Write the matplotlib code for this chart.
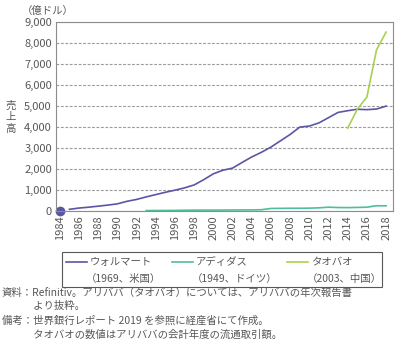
import numpy as np
import matplotlib.pyplot as plt
from matplotlib.patches import Rectangle
from matplotlib.lines import Line2D

plt.rcParams['font.family'] = ['Noto Sans CJK JP', 'DejaVu Sans']

years = np.arange(1984, 2019)
walmart = [0, 90, 150, 190, 240, 290, 350, 470, 560, 680, 790, 900, 1000, 1110,
           1250, 1500, 1780, 1950, 2050, 2320, 2580, 2800, 3050, 3350, 3650, 4000,
           4050, 4200, 4450, 4700, 4780, 4850, 4830, 4860, 5000]
adidas_years = np.arange(1993, 2019)
adidas = [30, 32, 35, 38, 45, 50, 52, 52, 55, 58, 60, 62, 70, 130, 135, 140, 140,
          145, 160, 190, 175, 170, 180, 190, 260, 255]
taobao_years = np.arange(2014, 2019)
taobao = [3950, 4850, 5430, 7670, 8520]

names = ['ウォルマート', 'アディダス', 'タオバオ']
subs = ['（1969、米国）', '（1949、ドイツ）', '（2003、中国）']
colors = ['#5a55a5', '#4dbfa0', '#a8d14f']
txt = '#595757'

fig = plt.figure(figsize=(4, 3.52), dpi=100)
ax = fig.add_axes([0.14, 0.40, 0.842, 0.5375])

ax.plot(years[1:], walmart[1:], color=colors[0], lw=1.2)
ax.plot(years[0], walmart[0], 'o', color=colors[0], ms=6, clip_on=False)
ax.plot(adidas_years, adidas, color=colors[1], lw=1.2)
ax.plot(taobao_years, taobao, color=colors[2], lw=1.2)

ax.set_xlim(1983.6, 2018.7)
ax.set_ylim(0, 9000)
ax.set_yticks(np.arange(0, 9001, 1000))
ax.set_yticklabels([f'{v:,}' for v in range(0, 9001, 1000)])
ax.set_xticks(np.arange(1984, 2019, 2))
ax.tick_params(axis='x', rotation=90, length=0, pad=3, labelsize=8, colors=txt)
ax.tick_params(axis='y', length=0, pad=3, labelsize=8, colors=txt)
ax.grid(axis='y', ls=(0, (2.5, 1.5)), color='#9a9a9a', lw=0.8)
for s in ax.spines.values():
    s.set_color('#8c8c8c')
    s.set_linewidth(0.8)

fig.text(0.055, 0.968, '（億ドル）', fontsize=7.5, color=txt, va='center')
for i, ch in enumerate('売上高'):
    fig.text(0.027, 0.70 - i * 0.033, ch, fontsize=7.5, color=txt,
             va='center', ha='center', rotation=0)

# legend box drawn by hand so the key sits beside the first line
W, H = 400, 352
fig.patches.append(Rectangle((62 / W, 1 - 287 / H), 320 / W, 35 / H,
                             transform=fig.transFigure, fill=False,
                             edgecolor=txt, lw=0.8))
starts = [66, 172, 287]
for x0, nm, sb, c in zip(starts, names, subs, colors):
    fig.lines.append(Line2D([x0 / W, (x0 + 21) / W], [1 - 262 / H] * 2,
                            transform=fig.transFigure, color=c, lw=1.2))
    fig.text((x0 + 24) / W, 1 - 262 / H, nm, fontsize=7.5, color=txt, va='center')
    fig.text((x0 + 20) / W, 1 - 279 / H, sb, fontsize=7.5, color=txt, va='center')

note = ('資料：Refinitiv。アリババ（タオバオ）については、アリババの年次報告書\n'
        '　　　より抜粋。\n'
        '備考：世界銀行レポート 2019 を参照に経産省にて作成。\n'
        '　　　タオバオの数値はアリババの会計年度の流通取引額。')
fig.text(0.005, 0.183, note, fontsize=7.5, color=txt, va='top', linespacing=1.45)

fig.savefig('out.png', dpi=100)
